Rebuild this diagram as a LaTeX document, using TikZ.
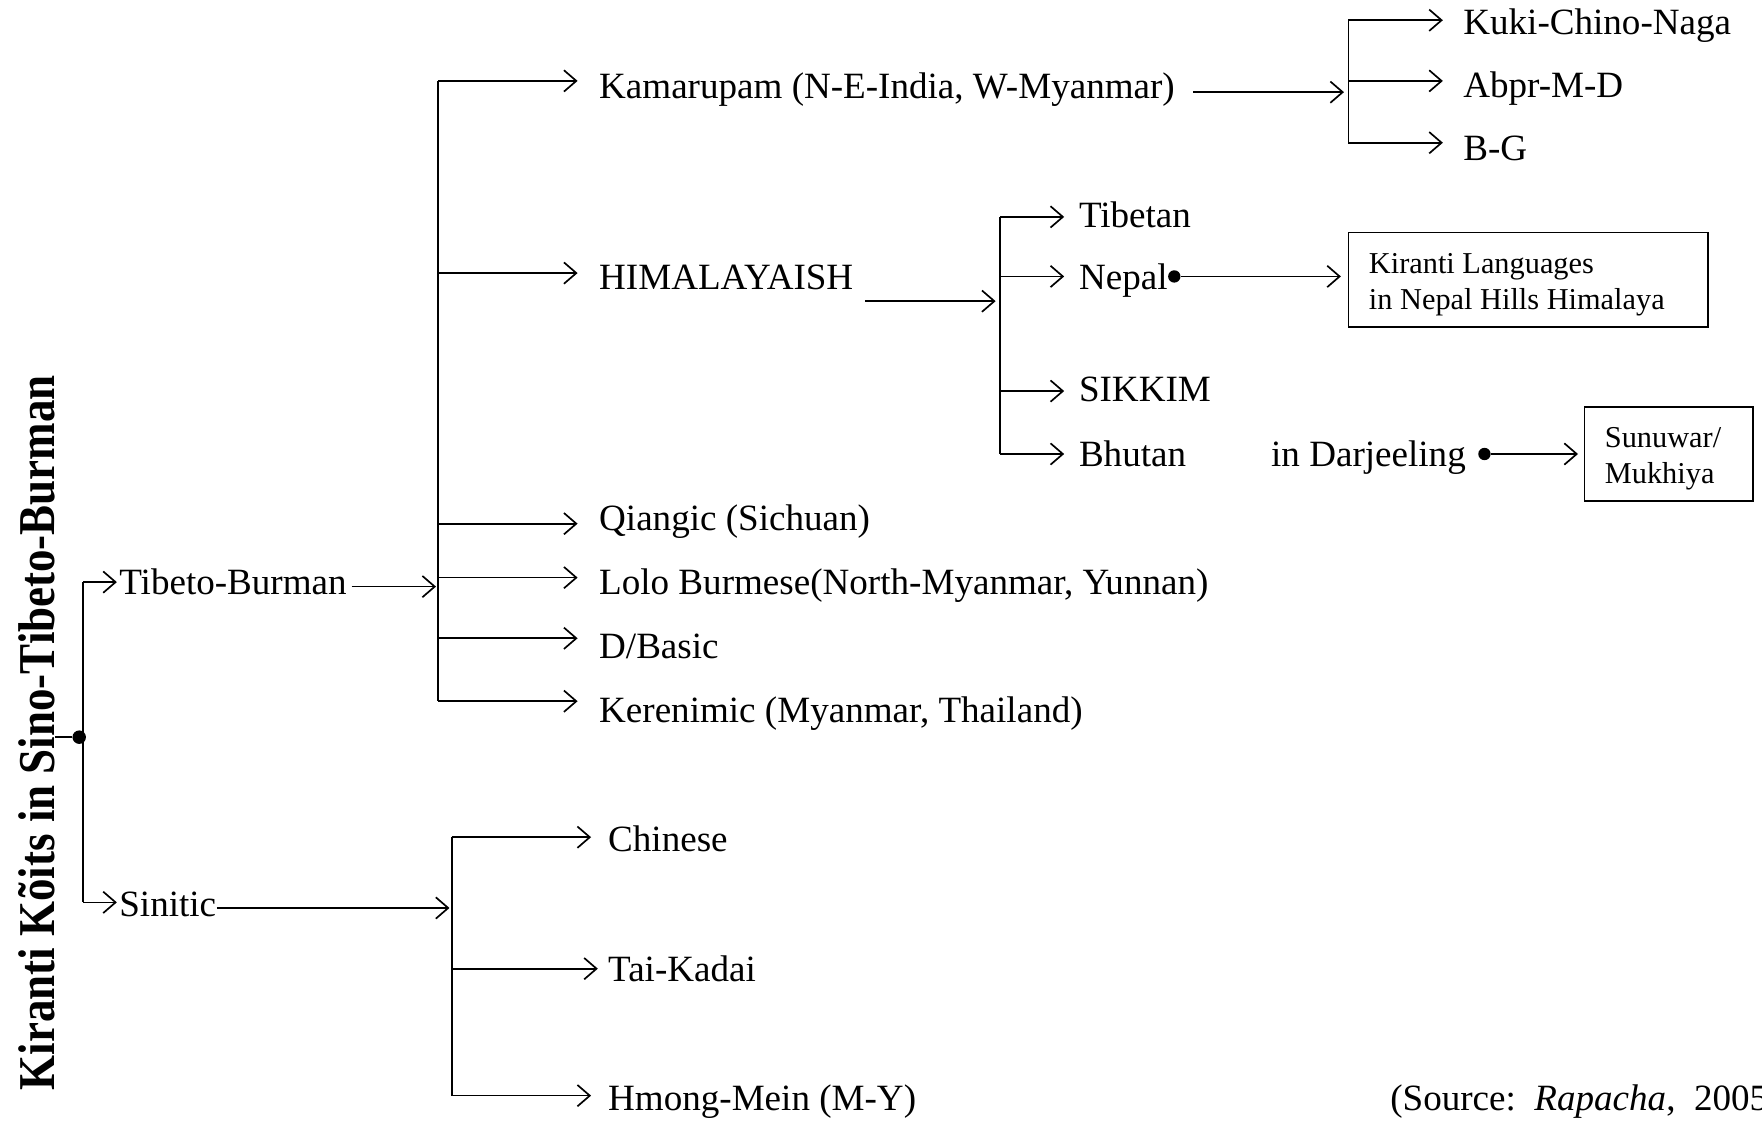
\documentclass[tikz,border=0pt]{standalone}
\usepackage{fontspec}
\setmainfont{Liberation Serif}
\usetikzlibrary{arrows.meta}
\tikzset{
  ln/.style={line width=1.5pt},
  arr/.style={line width=1.5pt,-{Straight Barb[length=11pt,width=19pt,line width=1.5pt]}},
  lbl/.style={inner sep=0pt,anchor=base west,font=\fontsize{33}{40}\selectfont},
  sml/.style={inner sep=0pt,anchor=base west,font=\fontsize{27}{32}\selectfont},
  blk/.style={draw,line width=1.5pt,inner sep=0pt},
  dotn/.style={circle,fill=black,inner sep=0pt,minimum size=12pt}
}
\begin{document}
\begin{tikzpicture}[x=1pt,y=-1pt]
\useasboundingbox (0,0) rectangle (1568,997);
% title
\node[rotate=90,inner sep=0pt,font=\bfseries\fontsize{46}{50}\selectfont] (title) at (33,652) {\scalebox{0.87}[1]{Kiranti Kõits in Sino-Tibeto-Burman}};
\coordinate (rootL) at (49,656);
\node[dotn] (root) at (70.5,656) {};
\draw[ln] (rootL) -- (root);
% level 0
\coordinate (b0t) at (74,518);
\coordinate (b0b) at (74,803);
\draw[ln] (b0t) -- (b0b);
\coordinate (tbtip) at (104,518);
\coordinate (sntip) at (104,803);
\draw[arr] (b0t) -- (tbtip);
\draw[arr] (b0b) -- (sntip);
\node[lbl] (tb) at (106,529) {Tibeto-Burman};
\node[lbl] (sn) at (106,816) {Sinitic};
% Tibeto-Burman branch
\coordinate (tbout) at (313,522);
\coordinate (tbin) at (388,522);
\draw[arr] (tbout) -- (tbin);
\coordinate (b1t) at (390,72);
\coordinate (b1b) at (390,624);
\draw[ln] (b1t) -- (b1b);
\coordinate (kamtip) at (514,72);
\coordinate (himtip) at (514,243);
\coordinate (qiatip) at (514,466);
\coordinate (lolotip) at (514,514);
\coordinate (dbtip) at (514,568);
\coordinate (kertip) at (514,624);
\foreach \t in {kamtip,himtip,qiatip,lolotip,dbtip,kertip}
  \draw[arr] (b1t |- \t) -- (\t);
\node[lbl] (kam) at (533,88) {Kamarupam (N-E-India, W-Myanmar)};
\node[lbl] (him) at (533,258) {HIMALAYAISH};
\node[lbl] (qia) at (533,472) {Qiangic (Sichuan)};
\node[lbl] (lolo) at (533,529) {Lolo Burmese(North-Myanmar, Yunnan)};
\node[lbl] (db) at (533,586) {D/Basic};
\node[lbl] (ker) at (533,643) {Kerenimic (Myanmar, Thailand)};
% Sinitic branch
\coordinate (snout) at (193,808);
\coordinate (snin) at (400,808);
\draw[arr] (snout) -- (snin);
\coordinate (b2t) at (402,745);
\coordinate (b2b) at (402,975);
\draw[ln] (b2t) -- (b2b);
\coordinate (chtip) at (526,745);
\coordinate (tktip) at (532,862);
\coordinate (hmtip) at (526,975);
\foreach \t in {chtip,tktip,hmtip}
  \draw[arr] (b2t |- \t) -- (\t);
\node[lbl] (ch) at (541,758) {Chinese};
\node[lbl] (tk) at (541,873) {Tai-Kadai};
\node[lbl] (hm) at (541,988) {Hmong-Mein (M-Y)};
% Kamarupam branch
\coordinate (kamout) at (1062,82);
\coordinate (kamin) at (1196,82);
\draw[arr] (kamout) -- (kamin);
\coordinate (b3t) at (1200,18);
\coordinate (b3b) at (1200,127);
\draw[ln] (b3t) -- (b3b);
\coordinate (kuktip) at (1284,18);
\coordinate (abtip) at (1284,72);
\coordinate (bgtip) at (1284,127);
\foreach \t in {kuktip,abtip,bgtip}
  \draw[arr] (b3t |- \t) -- (\t);
\node[lbl] (kuk) at (1302,31) {Kuki-Chino-Naga};
\node[lbl] (ab) at (1302,87) {Abpr-M-D};
\node[lbl] (bg) at (1302,143) {B-G};
% HIMALAYAISH branch
\coordinate (himout) at (770,268);
\coordinate (himin) at (886,268);
\draw[arr] (himout) -- (himin);
\coordinate (b4t) at (890,193);
\coordinate (b4b) at (890,404);
\draw[ln] (b4t) -- (b4b);
\coordinate (tibtip) at (947,193);
\coordinate (neptip) at (947,246);
\coordinate (siktip) at (947,348);
\coordinate (bhutip) at (947,404);
\foreach \t in {tibtip,neptip,siktip,bhutip}
  \draw[arr] (b4t |- \t) -- (\t);
\node[lbl] (tib) at (960,202) {Tibetan};
\node[lbl] (nep) at (960,258) {Nepal};
\node[lbl] (sik) at (960,357) {SIKKIM};
\node[lbl] (bhu) at (960,415) {Bhutan};
% Nepal -> Kiranti box
\node[dotn,minimum size=11pt] (nepdot) at (1045,246) {};
\node[blk,minimum width=320pt,minimum height=84pt] (kbox) at (1360,249) {};
\draw[arr] (nepdot) -- ([xshift=-6pt]kbox.west |- nepdot);
\node[sml] (k1) at (1218,243) {Kiranti Languages};
\node[sml] (k2) at (1218,275) {in Nepal Hills Himalaya};
% Darjeeling -> Sunuwar box
\node[lbl] (darj) at (1131,415) {in Darjeeling};
\node[dotn,minimum size=11pt] (darjdot) at (1321,404) {};
\node[blk,minimum width=150pt,minimum height=84pt] (sbox) at (1485,404) {};
\draw[arr] (darjdot) -- ([xshift=-5pt]sbox.west |- darjdot);
\node[sml] (s1) at (1428,398) {Sunuwar/};
\node[sml] (s2) at (1428,430) {Mukhiya};
% source
\node[lbl] (src) at (1237,988) {(Source:\ \ \textit{Rapacha},\ \ 2005)};
\end{tikzpicture}
\end{document}
